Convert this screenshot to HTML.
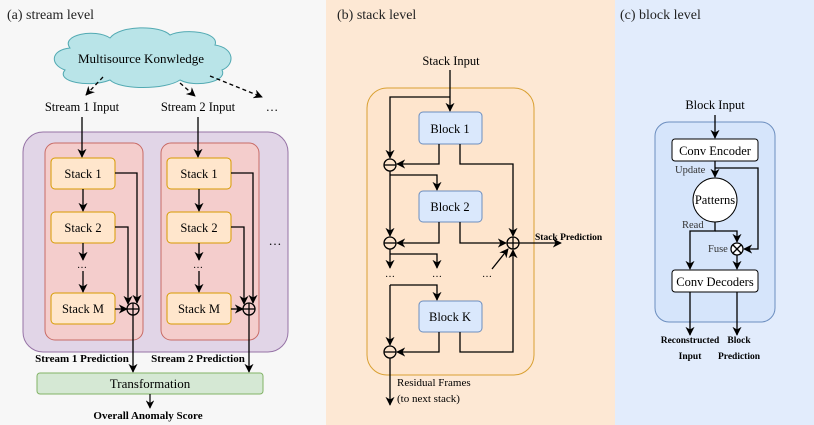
<!DOCTYPE html>
<html><head><meta charset="utf-8"><style>
html,body{margin:0;padding:0;background:#fff}
svg{display:block}
svg text{font-family:"Liberation Serif","Times New Roman",Times,serif}
</style></head><body>
<svg width="814" height="425" viewBox="0 0 814 425" xmlns="http://www.w3.org/2000/svg" font-family="Liberation Serif, Times New Roman, serif">
<defs>
<marker id="a" viewBox="0 0 10 10" refX="9" refY="5" markerWidth="7" markerHeight="7" orient="auto-start-reverse"><path d="M0,0 L10,5 L0,10 L3,5 z" fill="#000"/></marker>
</defs>
<rect x="0" y="0" width="326" height="425" fill="#f7f7f7"/>
<rect x="326" y="0" width="289" height="425" fill="#fde8d4"/>
<rect x="615" y="0" width="199" height="425" fill="#e2ecfc"/>
<g font-size="14" fill="#222">
<text x="7" y="19">(a) stream level</text>
<text x="337" y="19">(b) stack level</text>
<text x="620" y="19">(c) block level</text>
</g>

<!-- Panel A -->
<path d="M70,48 C60,35 95,28 110,38 C120,25 160,25 170,35 C185,28 220,32 215,45 C235,48 235,65 222,70 C228,82 195,88 180,80 C165,90 120,90 110,80 C90,88 55,82 65,70 C50,65 50,50 70,48 Z" fill="#b9e4e8" stroke="#53aab3" stroke-width="1"/>
<text x="141" y="63" font-size="13" text-anchor="middle">Multisource Konwledge</text>
<g stroke="#000" stroke-width="1.3" stroke-dasharray="4,3" fill="none">
<line x1="103" y1="77" x2="86" y2="95" marker-end="url(#a)"/>
<line x1="180" y1="83" x2="195" y2="96" marker-end="url(#a)"/>
<line x1="210" y1="76" x2="262" y2="97" marker-end="url(#a)"/>
</g>
<g font-size="12.5" text-anchor="middle">
<text x="82" y="111">Stream 1 Input</text>
<text x="198" y="111">Stream 2 Input</text>
<text x="272" y="111">…</text>
</g>
<rect x="23" y="132" width="265" height="220" rx="20" fill="#e1d5e7" stroke="#9673a6"/>
<text x="275" y="245" font-size="13" text-anchor="middle">…</text>
<g id="s1">
<rect x="45" y="143" width="98" height="197" rx="10" fill="#f4cdcc" stroke="#c86b66"/>
<g fill="#ffe6cc" stroke="#d79b00">
<rect x="51" y="158" width="64" height="31" rx="4"/>
<rect x="51" y="212" width="64" height="31" rx="4"/>
<rect x="51" y="293" width="64" height="31" rx="4"/>
</g>
<g font-size="12.5" text-anchor="middle">
<text x="83" y="178">Stack 1</text>
<text x="83" y="232">Stack 2</text>
<text x="83" y="313">Stack M</text>
<text x="82" y="268" font-size="10">…</text>
</g>
<g stroke="#000" stroke-width="1.3" fill="none">
<line x1="83" y1="189" x2="83" y2="211" marker-end="url(#a)"/>
<line x1="83" y1="243" x2="83" y2="260" marker-end="url(#a)"/>
<line x1="83" y1="271" x2="83" y2="292" marker-end="url(#a)"/>
<polyline points="115,173 137,173 137,303" marker-end="url(#a)"/>
<polyline points="115,227 128,227 128,304" marker-end="url(#a)"/>
<line x1="115" y1="309" x2="127" y2="309" marker-end="url(#a)"/>
<circle cx="133" cy="309" r="6" fill="#f4cdcc"/>
<line x1="127" y1="309" x2="139" y2="309"/><line x1="133" y1="303" x2="133" y2="315"/>
</g>
</g>
<use href="#s1" x="116"/>
<g stroke="#000" stroke-width="1.3" fill="none">
<line x1="82" y1="117" x2="82" y2="157" marker-end="url(#a)"/>
<line x1="198" y1="117" x2="198" y2="157" marker-end="url(#a)"/>
<line x1="133" y1="315" x2="133" y2="372" marker-end="url(#a)"/>
<line x1="249" y1="315" x2="249" y2="372" marker-end="url(#a)"/>
</g>
<g font-size="11" font-weight="bold" text-anchor="middle">
<text x="82" y="362">Stream 1 Prediction</text>
<text x="198" y="362">Stream 2 Prediction</text>
</g>
<rect x="37" y="373" width="226" height="21" rx="3" fill="#d5e8d4" stroke="#82b366"/>
<text x="150" y="388" font-size="13" text-anchor="middle">Transformation</text>
<line x1="150" y1="394" x2="150" y2="408" stroke="#000" stroke-width="1.2" marker-end="url(#a)"/>
<text x="148" y="419" font-size="11" font-weight="bold" text-anchor="middle">Overall Anomaly Score</text>

<!-- Panel B -->
<text x="451" y="65" font-size="12.5" text-anchor="middle">Stack Input</text>
<rect x="367" y="88" width="167" height="287" rx="20" fill="#fee5cd" stroke="#d9a032"/>
<g fill="#dae8fc" stroke="#6c8ebf">
<rect x="419" y="112" width="63" height="32" rx="4"/>
<rect x="419" y="191" width="63" height="31" rx="4"/>
<rect x="419" y="301" width="63" height="31" rx="4"/>
</g>
<g font-size="12.5" text-anchor="middle">
<text x="450" y="133">Block 1</text>
<text x="450" y="211">Block 2</text>
<text x="450" y="321">Block K</text>
</g>
<g font-size="10" text-anchor="middle"><text x="390" y="277">…</text><text x="437" y="277">…</text><text x="487" y="277">…</text></g>
<g stroke="#000" stroke-width="1.3" fill="none">
<line x1="450" y1="70" x2="450" y2="111" marker-end="url(#a)"/>
<polyline points="450,97 390,97 390,158" marker-end="url(#a)"/>
<polyline points="439,144 439,164 397,164" marker-end="url(#a)"/>
<polyline points="460,144 460,164 513,164 513,236" marker-end="url(#a)"/>
<line x1="390" y1="171" x2="390" y2="236" marker-end="url(#a)"/>
<polyline points="390,175 437,175 437,190" marker-end="url(#a)"/>
<polyline points="439,222 439,243 397,243" marker-end="url(#a)"/>
<polyline points="460,222 460,243 506,243" marker-end="url(#a)"/>
<line x1="519" y1="243" x2="561" y2="243" marker-end="url(#a)"/>
<line x1="390" y1="249" x2="390" y2="268" marker-end="url(#a)"/>
<polyline points="390,254 437,254 437,268" marker-end="url(#a)"/>
<line x1="492" y1="269" x2="508" y2="249" marker-end="url(#a)"/>
<polyline points="390,285 437,285 437,300" marker-end="url(#a)"/>
<line x1="390" y1="285" x2="390" y2="345" marker-end="url(#a)"/>
<polyline points="439,332 439,352 397,352" marker-end="url(#a)"/>
<polyline points="460,332 460,352 513,352 513,250" marker-end="url(#a)"/>
<line x1="390" y1="358" x2="390" y2="405" marker-end="url(#a)"/>
<circle cx="390" cy="165" r="6" fill="#fee5cd"/><line x1="384" y1="165" x2="396" y2="165"/>
<circle cx="390" cy="243" r="6" fill="#fee5cd"/><line x1="384" y1="243" x2="396" y2="243"/>
<circle cx="390" cy="352" r="6" fill="#fee5cd"/><line x1="384" y1="352" x2="396" y2="352"/>
<circle cx="513" cy="243" r="6" fill="#fee5cd"/><line x1="507" y1="243" x2="519" y2="243"/><line x1="513" y1="237" x2="513" y2="249"/>
</g>
<text x="535" y="240" font-size="9.5" font-weight="bold">Stack Prediction</text>
<g font-size="11"><text x="397" y="386">Residual Frames</text><text x="397" y="402">(to next stack)</text></g>

<!-- Panel C -->
<text x="715" y="109" font-size="12.5" text-anchor="middle">Block Input</text>
<rect x="655" y="122" width="120" height="200" rx="14" fill="#d6e5fb" stroke="#6c8ebf"/>
<rect x="672" y="139" width="86" height="22" rx="3" fill="#fff" stroke="#000"/>
<text x="715" y="155" font-size="12.5" text-anchor="middle">Conv Encoder</text>
<circle cx="715" cy="200" r="22" fill="#fff" stroke="#000"/>
<text x="715" y="204" font-size="12.5" text-anchor="middle">Patterns</text>
<rect x="672" y="270" width="86" height="22" rx="3" fill="#fff" stroke="#000"/>
<text x="715" y="286" font-size="12.5" text-anchor="middle">Conv Decoders</text>
<g font-size="10.5" fill="#333"><text x="675" y="173">Update</text><text x="682" y="228">Read</text><text x="708" y="252">Fuse</text></g>
<g stroke="#000" stroke-width="1.3" fill="none">
<line x1="715" y1="115" x2="715" y2="138" marker-end="url(#a)"/>
<line x1="715" y1="161" x2="715" y2="177" marker-end="url(#a)"/>
<polyline points="715,168 758,168 758,249 744,249" marker-end="url(#a)"/>
<polyline points="715,222 715,231 690,231 690,269" marker-end="url(#a)"/>
<polyline points="715,231 737,231 737,242" marker-end="url(#a)"/>
<line x1="737" y1="255" x2="737" y2="269" marker-end="url(#a)"/>
<line x1="690" y1="292" x2="690" y2="335" marker-end="url(#a)"/>
<line x1="737" y1="292" x2="737" y2="335" marker-end="url(#a)"/>
<circle cx="737" cy="249" r="6" fill="#fff"/>
<line x1="733" y1="245" x2="741" y2="253"/><line x1="741" y1="245" x2="733" y2="253"/>
</g>
<g font-size="9.5" font-weight="bold" text-anchor="middle">
<text x="690" y="343">Reconstructed</text><text x="690" y="359">Input</text>
<text x="739" y="343">Block</text><text x="739" y="359">Prediction</text>
</g>
</svg>
</body></html>
